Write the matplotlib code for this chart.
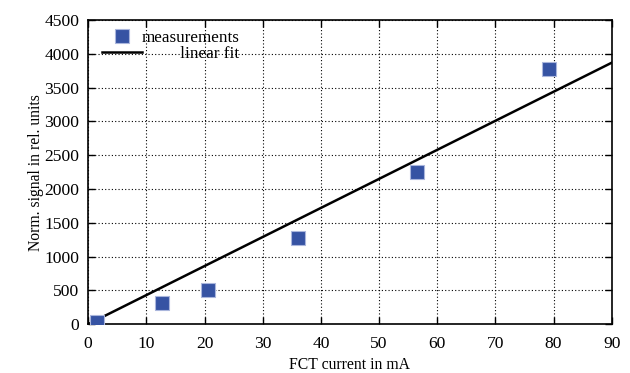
import numpy as np
import matplotlib.pyplot as plt

plt.rcParams["font.family"] = ["Liberation Serif", "DejaVu Serif"]
plt.rcParams["font.size"] = 11.3

# Messwerte
current = [1.5, 12.7, 20.6, 36.0, 56.5, 79.2]
signal = [30, 320, 510, 1280, 2250, 3780]

# lineare Regression
slope = 43.0
offset = 0.0
x_fit = [0, 90]

fig = plt.figure(figsize=(6.3, 3.73), dpi=100)
ax = fig.add_axes([0.14, 0.131, 0.831, 0.815])

ax.plot(current, signal, "s", color="#3653a3", markeredgecolor="#aab6dc",
        markeredgewidth=0.8, markersize=9.5, label="measurements", zorder=3)
ax.plot(x_fit, [slope * x + offset for x in x_fit], color="black", lw=1.8,
        label="linear fit", zorder=2)

ax.set_xlim(0, 90)
ax.set_ylim(0, 4500)
ax.set_xticks(np.arange(0, 91, 10))
ax.set_yticks(np.arange(0, 4501, 500))
ax.set_xlabel("FCT current in mA", labelpad=4)
ax.set_ylabel("Norm. signal in rel. units", labelpad=0.4)
ax.grid(True, color="black", linestyle=(0, (1, 2)), linewidth=0.8)
ax.tick_params(direction="in", top=True, right=True, length=5, width=1,
               labelsize=12.6)
ax.tick_params(axis="x", pad=8.5)
ax.tick_params(axis="y", pad=6.5)
for s in ax.spines.values():
    s.set_linewidth(1.2)

leg = ax.legend(loc="upper left", bbox_to_anchor=(0.008, 1.0), frameon=False,
                handlelength=2.35, borderaxespad=0.4, borderpad=0.15,
                labelspacing=0.05, handletextpad=0.0, fontsize=12.3)

# Legendentexte rechtsbuendig (mit Leerzeichen auffuellen)
fig.canvas.draw()
r = fig.canvas.get_renderer()
texts = leg.get_texts()
wmax = max(t.get_window_extent(r).width for t in texts)
for t in texts:
    while t.get_window_extent(r).width < wmax - 1.5:
        t.set_text(" " + t.get_text())

fig.savefig("out.png", dpi=100)
